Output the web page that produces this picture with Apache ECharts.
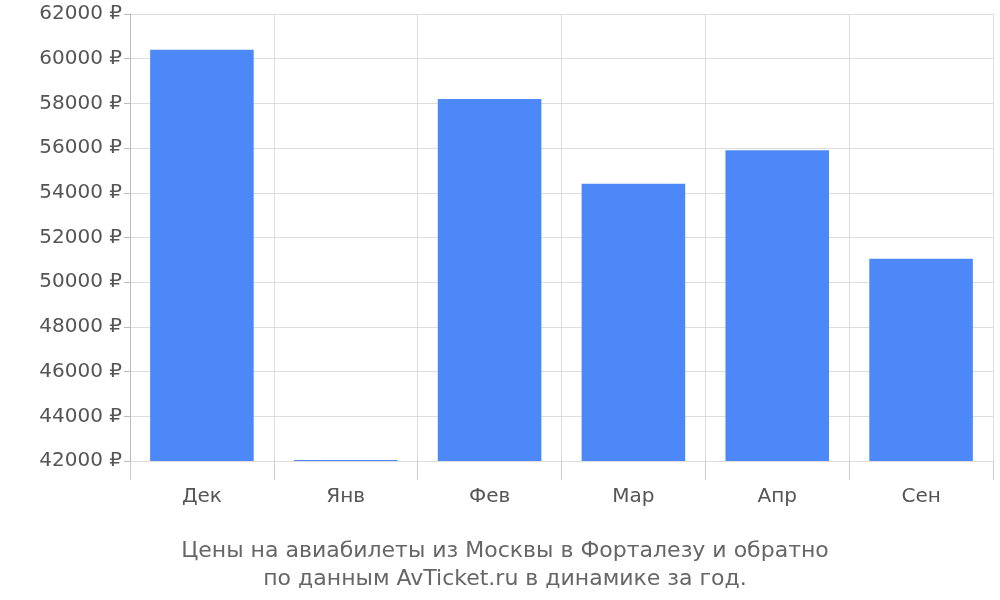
<!DOCTYPE html><html><head><meta charset="utf-8"><script src="https://cdn.jsdelivr.net/npm/echarts@6/dist/echarts.min.js"></script></head><body style="margin:0"><div id="c" style="width:1000px;height:600px"></div><script>
const categories=['Дек','Янв','Фев','Мар','Апр','Сен'];
const prices=[60400,42050,58200,54400,55900,51050];
const chart=echarts.init(document.getElementById('c'));
chart.setOption({
 textStyle:{fontFamily:'DejaVu Sans'},
 title:{text:'Цены на авиабилеты из Москвы в Форталезу и обратно\nпо данным AvTicket.ru в динамике за год.',left:500,textAlign:'center',top:532,textStyle:{color:'#666',fontSize:22,fontWeight:'normal',lineHeight:28,fontFamily:'DejaVu Sans'}},
 grid:{left:130,right:7,top:14,bottom:139},
 xAxis:{type:'category',data:categories,axisLine:{show:false},axisTick:{show:true,length:19,lineStyle:{color:'#ccc'}},splitLine:{show:true,lineStyle:{color:'#ddd'}},axisLabel:{color:'#555',fontSize:20,margin:26}},
 yAxis:{type:'value',min:42000,max:62000,interval:2000,axisLine:{show:true,lineStyle:{color:'#bbb'}},axisTick:{show:true,length:6,lineStyle:{color:'#bbb'}},splitLine:{lineStyle:{color:'#ddd'}},axisLabel:{color:'#555',fontSize:20,formatter:v=>v+' ₽'}},
 series:[{type:'bar',data:prices,barCategoryGap:'28%',itemStyle:{color:'#4d88f9'}}]
});
</script></body></html>
